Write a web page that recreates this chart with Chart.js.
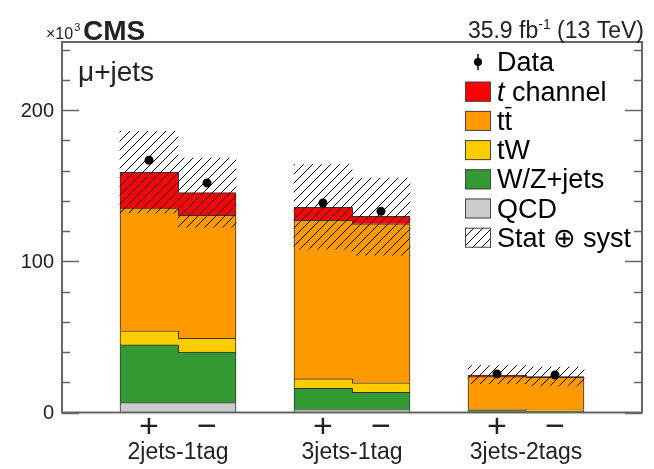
<!DOCTYPE html>
<html>
<head>
<meta charset="utf-8">
<script src="https://cdn.jsdelivr.net/npm/chart.js@4.4.0/dist/chart.umd.min.js"></script>
<style>
    html, body { margin: 0; padding: 0; background: #fff; }
</style>
</head>
<body>
<canvas id="chart" width="654" height="469"></canvas>
<script>
// bins: empty slot, +, -, empty, +, -, empty, +, -, empty (values in units of 10^3)
const categories = ['', '+', '\u2212', '', '+', '\u2212', '', '+', '\u2212', ''];
const groups = ['2jets-1tag', '3jets-1tag', '3jets-2tags'];

const qcd    = [null, 6.5, 6.5, null, 2.0, 2.0, null, 0.3, 0.3, null];
const wzjets = [null, 38.2, 33.4, null, 14.0, 11.4, null, 0.9, 0.7, null];
const tw     = [null, 9.3, 9.2, null, 6.2, 6.3, null, 0.8, 0.8, null];
const ttbar  = [null, 81.2, 81.2, null, 104.8, 105.1, null, 21.7, 21.5, null];
const tchan  = [null, 23.6, 15.1, null, 8.6, 4.9, null, 1.1, 0.4, null];
const data   = [null, 166.8, 151.8, null, 138.5, 133.0, null, 25.5, 24.8, null];
const uncLow  = [null, 132, 122.5, null, 108, 104, null, 19, 17.5, null];
const uncHigh = [null, 186, 168.3, null, 164, 155, null, 31, 30, null];

const yTicks = [0, 100, 200];
const yTickLabels = ['0', '100', '200'];
const yMinor = [20, 40, 60, 80, 120, 140, 160, 180, 220, 240];

const FONT = '"Liberation Sans", Arial, Helvetica, sans-serif';
const colors = {
    qcd: '#cccccc',
    wz: '#339933',
    tw: '#ffcc00',
    tt: '#ff9900',
    t: '#ff0000',
    edge: '#333333',
    frame: '#666666'
};

function makeHatch() {
    const s = 9;
    const c = document.createElement('canvas');
    c.width = s; c.height = s;
    const g = c.getContext('2d');
    g.strokeStyle = '#000';
    g.lineWidth = 1;
    g.beginPath();
    g.moveTo(0, s); g.lineTo(s, 0);
    g.moveTo(-2, 2); g.lineTo(2, -2);
    g.moveTo(s - 2, s + 2); g.lineTo(s + 2, s - 2);
    g.stroke();
    return g.createPattern(c, 'repeat');
}
const hatch = makeHatch();

// outline only on top, plus the outer sides of each pair of bins
function edgeWidth(ctx) {
    const i = ctx.dataIndex;
    return {
        top: 1,
        bottom: 0,
        left: categories[i] === '+' ? 1 : 0,
        right: categories[i] === '\u2212' ? 1 : 0
    };
}

function component(label, values, color) {
    return {
        type: 'bar',
        label: label,
        data: values,
        backgroundColor: color,
        borderColor: colors.edge,
        borderWidth: edgeWidth,
        borderSkipped: false,
        stack: 'mc',
        grouped: false,
        order: 3,
        barPercentage: 1,
        categoryPercentage: 1
    };
}

const frame = {
    id: 'frame',
    afterDatasetsDraw(chart) {
        const ctx = chart.ctx;
        // vertical steps between the two bins of each pair
        ctx.save();
        ctx.strokeStyle = colors.edge;
        ctx.lineWidth = 1;
        chart.data.datasets.forEach((ds, di) => {
            if (ds.stack !== 'mc') return;
            const meta = chart.getDatasetMeta(di);
            [1, 4, 7].forEach(i => {
                const a = meta.data[i], b = meta.data[i + 1];
                const x = Math.round((a.x + b.x) / 2) + 0.5;
                ctx.beginPath();
                ctx.moveTo(x, a.y);
                ctx.lineTo(x, b.y);
                ctx.stroke();
            });
        });
        ctx.restore();
    },
    afterDraw(chart) {
        const ctx = chart.ctx;
        const { left, right, top, bottom } = chart.chartArea;
        const y = chart.scales.y;
        const x = chart.scales.x;
        ctx.save();

        // frame
        ctx.strokeStyle = colors.frame;
        ctx.lineWidth = 2;
        ctx.strokeRect(left, top, right - left, bottom - top);

        // inward ticks
        ctx.lineWidth = 1.5;
        ctx.beginPath();
        yTicks.forEach(v => {
            const py = Math.round(y.getPixelForValue(v)) + 0.5;
            ctx.moveTo(left, py); ctx.lineTo(left + 17, py);
            ctx.moveTo(right, py); ctx.lineTo(right - 17, py);
        });
        yMinor.forEach(v => {
            const py = Math.round(y.getPixelForValue(v)) + 0.5;
            ctx.moveTo(left, py); ctx.lineTo(left + 8, py);
            ctx.moveTo(right, py); ctx.lineTo(right - 8, py);
        });
        ctx.stroke();

        // y labels
        ctx.fillStyle = '#222';
        ctx.font = '20px ' + FONT;
        ctx.textAlign = 'right';
        ctx.textBaseline = 'middle';
        yTicks.forEach((v, i) => {
            ctx.fillText(yTickLabels[i], left - 8, y.getPixelForValue(v) + 1);
        });

        // x labels
        ctx.textAlign = 'center';
        ctx.font = '34px ' + FONT;
        categories.forEach((c, i) => {
            if (c) ctx.fillText(c, x.getPixelForValue(i), bottom + 15);
        });
        ctx.font = '23px ' + FONT;
        ctx.textBaseline = 'alphabetic';
        groups.forEach((g, k) => {
            const i = 1 + 3 * k;
            const cx = (x.getPixelForValue(i) + x.getPixelForValue(i + 1)) / 2;
            ctx.fillText(g, cx, bottom + 46);
        });

        // header texts
        ctx.textAlign = 'left';
        ctx.font = '16px ' + FONT;
        ctx.fillText('\u00d710', 46, 39);
        const w10 = ctx.measureText('\u00d710').width;
        ctx.font = '11px ' + FONT;
        ctx.fillText('3', 46 + w10 + 1, 31);
        ctx.font = 'bold 28px ' + FONT;
        ctx.fillText('CMS', 83, 40);

        ctx.textAlign = 'right';
        ctx.font = '23px ' + FONT;
        const tail = ' (13 TeV)';
        let rx = right + 2;
        ctx.fillText(tail, rx, 38);
        rx -= ctx.measureText(tail).width;
        ctx.font = '14px ' + FONT;
        ctx.fillText('-1', rx, 29);
        rx -= ctx.measureText('-1').width;
        ctx.font = '23px ' + FONT;
        ctx.fillText('35.9 fb', rx, 38);

        ctx.textAlign = 'left';
        ctx.font = '28px ' + FONT;
        ctx.fillText('\u03bc+jets', 78, 81);

        // legend
        const lx = 465, bw = 26, bh = 20, tx = 497, step = 29.2;
        ctx.font = '27px ' + FONT;
        // data entry
        const dy = 62;
        ctx.fillStyle = '#000';
        ctx.beginPath();
        ctx.arc(lx + bw / 2, dy, 4, 0, Math.PI * 2);
        ctx.fill();
        ctx.lineWidth = 1.5;
        ctx.strokeStyle = '#000';
        ctx.beginPath();
        ctx.moveTo(lx + bw / 2, dy - 8); ctx.lineTo(lx + bw / 2, dy + 8);
        ctx.stroke();
        ctx.fillText('Data', tx, dy + 9);

        const entries = chart.data.datasets.filter(d => d.legendRow !== undefined)
            .sort((a, b) => a.legendRow - b.legendRow);
        entries.forEach((ds, k) => {
            const by = 81.7 + step * k;
            ctx.fillStyle = ds.stack === 'unc' ? '#fff' : ds.backgroundColor;
            ctx.fillRect(lx, by, bw, bh);
            if (ds.stack === 'unc') {
                ctx.fillStyle = hatch;
                ctx.fillRect(lx, by, bw, bh);
            }
            ctx.strokeStyle = '#444';
            ctx.lineWidth = 1;
            ctx.strokeRect(lx + 0.5, by + 0.5, bw - 1, bh - 1);
            ctx.fillStyle = '#000';
            const base = by + bh - 1;
            if (ds.label === 't channel') {
                ctx.font = 'italic 27px ' + FONT;
                ctx.fillText('t', tx, base);
                const w = ctx.measureText('t').width;
                ctx.font = '27px ' + FONT;
                ctx.fillText(' channel', tx + w, base);
            } else if (ds.label === 'tt\u0304') {
                ctx.fillText('tt', tx, base);
                const w = ctx.measureText('t').width;
                ctx.fillRect(tx + w + 0.5, base - 23, w - 1, 1.5);
            } else {
                ctx.fillText(ds.label, tx, base);
            }
        });
        ctx.restore();
    }
};

const bandDataset = {
    type: 'bar',
    label: 'Stat \u2295 syst',
    data: uncLow.map((lo, i) => lo === null ? null : [lo, uncHigh[i]]),
    backgroundColor: hatch,
    borderWidth: 0,
    stack: 'unc',
    grouped: false,
    order: 2,
    barPercentage: 1,
    categoryPercentage: 1,
    legendRow: 5
};

const datasets = [
    Object.assign(component('QCD', qcd, colors.qcd), { legendRow: 4 }),
    Object.assign(component('W/Z+jets', wzjets, colors.wz), { legendRow: 3 }),
    Object.assign(component('tW', tw, colors.tw), { legendRow: 2 }),
    Object.assign(component('tt\u0304', ttbar, colors.tt), { legendRow: 1 }),
    Object.assign(component('t channel', tchan, colors.t), { legendRow: 0 }),
    bandDataset,
    {
        type: 'line',
        label: 'Data',
        data: data,
        showLine: false,
        pointRadius: 4.5,
        pointBackgroundColor: '#000',
        pointBorderColor: '#000',
        pointBorderWidth: 0,
        stack: 'data',
        order: 1
    }
];

new Chart(document.getElementById('chart'), {
    type: 'bar',
    data: { labels: categories, datasets: datasets },
    options: {
        responsive: false,
        animation: false,
        layout: { padding: { left: 62, right: 12, top: 42, bottom: 56.5 } },
        plugins: { legend: { display: false }, tooltip: { enabled: false } },
        scales: {
            x: { display: false, offset: true, stacked: true },
            y: { display: false, stacked: true, min: 0, max: 245 }
        }
    },
    plugins: [frame]
});
</script>
</body>
</html>
